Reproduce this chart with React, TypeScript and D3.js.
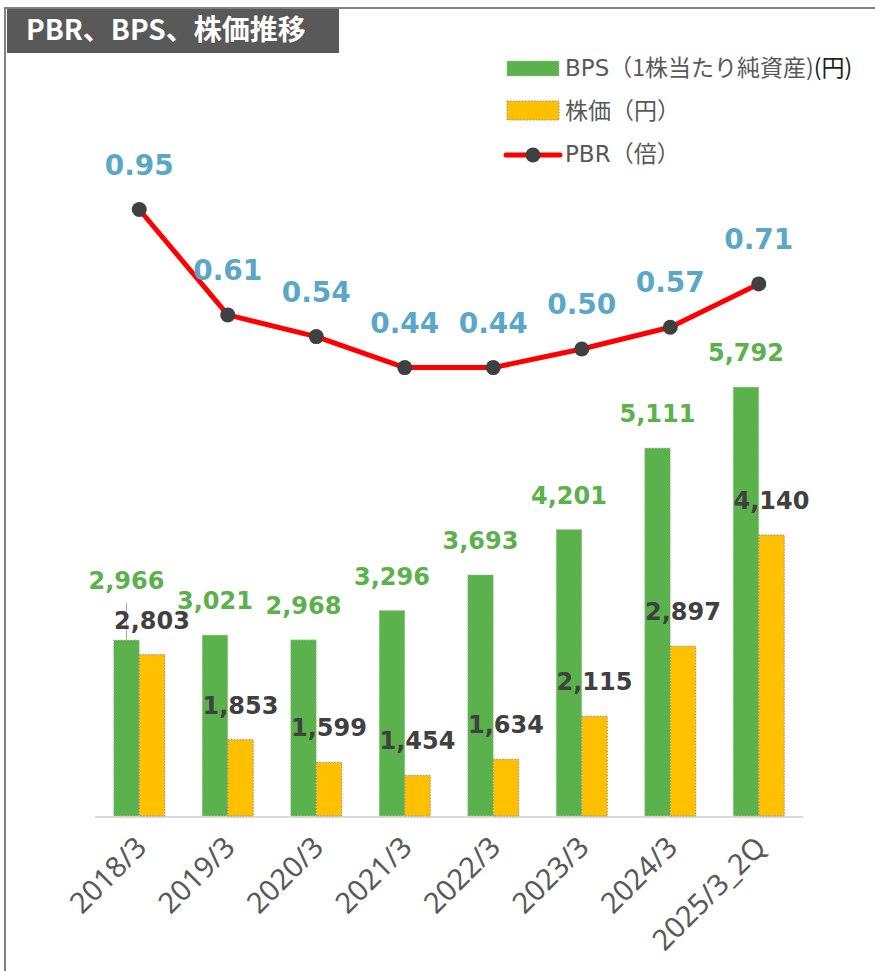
import React, { useEffect, useRef } from "react";
import * as d3 from "d3";

const categories = ["2018/3", "2019/3", "2020/3", "2021/3", "2022/3", "2023/3", "2024/3", "2025/3_2Q"];
const bpsValues = [2966, 3021, 2968, 3296, 3693, 4201, 5111, 5792];
const priceValues = [2803, 1853, 1599, 1454, 1634, 2115, 2897, 4140];
const pbrValues = [0.95, 0.61, 0.54, 0.44, 0.44, 0.5, 0.57, 0.71];

const GREEN = "#5BB14B";
const YELLOW = "#FFC000";
const latin = "'DejaVu Sans', 'Noto Sans CJK JP', sans-serif";
const cjk = "'Noto Sans CJK JP', 'DejaVu Sans', sans-serif";

function Chart() {
  const ref = useRef<SVGSVGElement>(null);

  useEffect(() => {
    document.body.style.margin = "0";
    const width = 875, height = 971;
    const svg = d3.select(ref.current);
    svg.selectAll("*").remove();
    svg.attr("width", width).attr("height", height);

    // frame + title
    svg.append("rect").attr("width", width).attr("height", height).attr("fill", "#fff");
    svg.append("line").attr("x1", 5).attr("x2", 5).attr("y1", 7).attr("y2", height).attr("stroke", "#808080").attr("stroke-width", 2);
    svg.append("line").attr("x1", 4).attr("x2", width).attr("y1", 8).attr("y2", 8).attr("stroke", "#808080").attr("stroke-width", 2);
    svg.append("rect").attr("x", 7).attr("y", 9).attr("width", 332).attr("height", 44).attr("fill", "#595959");
    svg.append("text").attr("x", 26).attr("y", 40).attr("fill", "#fff")
      .attr("font-family", cjk).attr("font-weight", "bold").attr("font-size", 28)
      .text("PBR、BPS、株価推移");

    const x0 = d3.scaleBand().domain(categories).range([95, 803]).padding(0);
    const x1 = d3.scaleBand().domain(["bps", "price"]).range([0, x0.bandwidth()]).paddingInner(0).paddingOuter(0.735);
    const yBar = d3.scaleLinear().domain([1000, 7000]).range([816, 279]);
    const yPbr = d3.scaleLinear().domain([0, 1]).range([504, 194]);

    const rows = categories.map((c, i) => ({ c, bps: bpsValues[i], price: priceValues[i], pbr: pbrValues[i] }));

    // baseline
    svg.append("line").attr("x1", 95).attr("x2", 803).attr("y1", 817).attr("y2", 817)
      .attr("stroke", "#D9D9D9").attr("stroke-width", 2);

    const g = svg.selectAll(".grp").data(rows).enter().append("g")
      .attr("transform", (d) => "translate(" + x0(d.c) + ",0)");

    g.append("rect")
      .attr("x", x1("bps")!).attr("width", x1.bandwidth())
      .attr("y", (d) => yBar(d.bps)).attr("height", (d) => yBar(1000) - yBar(d.bps))
      .attr("fill", GREEN).attr("stroke", "#a9c99c").attr("stroke-dasharray", "1.5 1.5").attr("stroke-width", 1);
    g.append("rect")
      .attr("x", x1("price")!).attr("width", x1.bandwidth())
      .attr("y", (d) => yBar(d.price)).attr("height", (d) => yBar(1000) - yBar(d.price))
      .attr("fill", YELLOW).attr("stroke", "#8c8c8c").attr("stroke-dasharray", "1.5 1.5").attr("stroke-width", 1);

    const lifted = (d: any) => yBar(d.price) - yBar(d.bps) < 30;
    const bpsCx = x1("bps")! + x1.bandwidth() / 2;
    const priceCx = x1("price")! + x1.bandwidth() / 2;

    // leader line for the lifted label
    g.filter(lifted).append("line")
      .attr("x1", bpsCx).attr("x2", bpsCx)
      .attr("y1", (d) => yBar(d.bps) - 37).attr("y2", (d) => yBar(d.bps))
      .attr("stroke", "#a6a6a6").attr("stroke-width", 1);

    g.append("text")
      .attr("x", bpsCx).attr("y", (d) => yBar(d.bps) - 26 - (lifted(d) ? 25 : 0))
      .attr("text-anchor", "middle").attr("fill", GREEN)
      .attr("font-family", latin).attr("font-weight", "bold").attr("font-size", 24)
      .text((d) => d3.format(",")(d.bps));
    g.append("text")
      .attr("x", priceCx).attr("y", (d) => yBar(d.price) - 26)
      .attr("text-anchor", "middle").attr("fill", "#404040")
      .attr("font-family", latin).attr("font-weight", "bold").attr("font-size", 24)
      .text((d) => d3.format(",")(d.price));

    // x labels
    g.append("text")
      .attr("transform", "translate(" + (x0.bandwidth() / 2 + 9) + ",849) rotate(-45)")
      .attr("text-anchor", "end").attr("fill", "#595959")
      .attr("font-family", "'Noto Sans', sans-serif").attr("font-size", 29)
      .text((d) => d.c);

    // PBR line
    const cx = (d: any) => x0(d.c)! + x0.bandwidth() / 2;
    const line = d3.line<any>().x(cx).y((d) => yPbr(d.pbr));
    svg.append("path").datum(rows).attr("d", line).attr("fill", "none")
      .attr("stroke", "#FF0000").attr("stroke-width", 5).attr("stroke-linejoin", "round");
    svg.selectAll(".pt").data(rows).enter().append("circle")
      .attr("cx", cx).attr("cy", (d) => yPbr(d.pbr)).attr("r", 7.5).attr("fill", "#404040");
    svg.selectAll(".pl").data(rows).enter().append("text")
      .attr("x", cx).attr("y", (d) => yPbr(d.pbr) - 35)
      .attr("text-anchor", "middle").attr("fill", "#5BA7C7")
      .attr("font-family", latin).attr("font-weight", "bold").attr("font-size", 28)
      .text((d) => d3.format(".2f")(d.pbr));

    // legend
    const lg = svg.append("g").attr("font-family", latin).attr("font-size", 23).attr("fill", "#595959");
    lg.append("rect").attr("x", 507).attr("y", 61).attr("width", 52).attr("height", 15)
      .attr("fill", GREEN).attr("stroke", "#a9c99c").attr("stroke-dasharray", "1.5 1.5");
    const t1 = lg.append("text").attr("x", 565).attr("y", 76);
    t1.append("tspan").text("BPS");
    t1.append("tspan").attr("font-family", cjk).text("（1株当たり純資産)");
    t1.append("tspan").attr("font-family", cjk).attr("fill", "#222").text("(円)");
    lg.append("rect").attr("x", 507).attr("y", 101).attr("width", 52).attr("height", 19)
      .attr("fill", YELLOW).attr("stroke", "#8c8c8c").attr("stroke-dasharray", "1.5 1.5");
    lg.append("text").attr("x", 565).attr("y", 119).attr("font-family", cjk).text("株価（円）");
    lg.append("line").attr("x1", 506).attr("x2", 560).attr("y1", 155).attr("y2", 155)
      .attr("stroke", "#FF0000").attr("stroke-width", 5).attr("stroke-linecap", "round");
    lg.append("circle").attr("cx", 533).attr("cy", 155).attr("r", 7.5).attr("fill", "#404040");
    const t3 = lg.append("text").attr("x", 565).attr("y", 162);
    t3.append("tspan").text("PBR");
    t3.append("tspan").attr("font-family", cjk).text("（倍）");
  }, []);

  return <svg ref={ref} style={{ display: "block" }} />;
}

export default function App() {
  return (
    <div>
      <Chart />
    </div>
  );
}
